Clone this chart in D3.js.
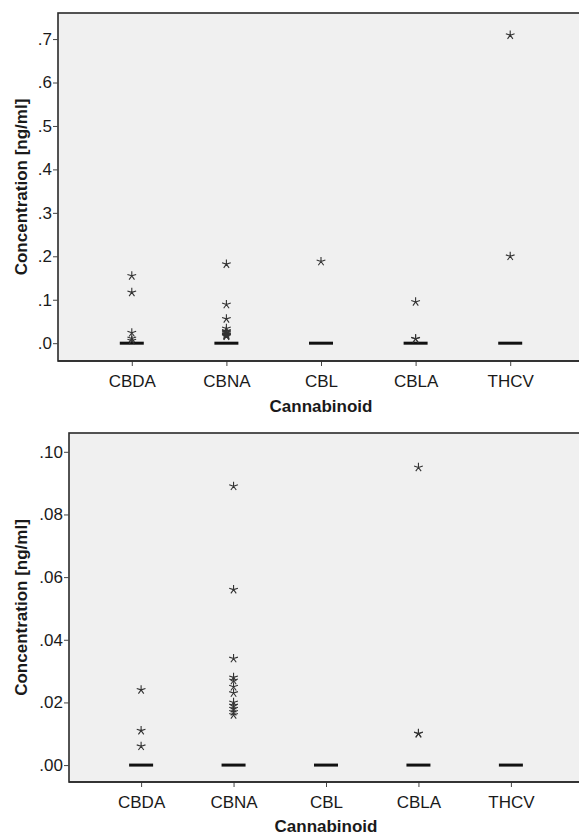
<!DOCTYPE html>
<html>
<head>
<meta charset="utf-8">
<script src="https://cdn.jsdelivr.net/npm/d3@7"></script>
<style>
  body { margin: 0; background: #fff; }
  svg { display: block; font-family: "Liberation Sans", Arial, sans-serif; }
</style>
</head>
<body>
<script>
// categories on the x axis
const cannabinoids = ["CBDA", "CBNA", "CBL", "CBLA", "THCV"];
// median of each group (boxes collapse to a line at zero)
const medians = [0, 0, 0, 0, 0];
// extreme values (asterisks) per group, ng/ml
const extremesCBDA = [0.155, 0.117, 0.024, 0.011, 0.006];
const extremesCBNA = [0.182, 0.089, 0.056, 0.034, 0.028, 0.027, 0.025, 0.023, 0.020, 0.019, 0.018, 0.017, 0.016];
const extremesCBL = [0.188];
const extremesCBLA = [0.095, 0.010, 0.0101];
const extremesTHCV = [0.709, 0.200];
// tick values of the two panels
const ticksTop = [0, 0.1, 0.2, 0.3, 0.4, 0.5, 0.6, 0.7];
const ticksBottom = [0, 0.02, 0.04, 0.06, 0.08, 0.10];

const extremes = [extremesCBDA, extremesCBNA, extremesCBL, extremesCBLA, extremesTHCV];

const svg = d3.select("body").append("svg")
    .attr("width", 579)
    .attr("height", 837);

// asterisk marker path, 5 spokes
function starPath(r) {
  let p = "";
  for (let i = 0; i < 5; i++) {
    const a = -Math.PI / 2 + i * 2 * Math.PI / 5;
    p += `M0,0L${(r * Math.cos(a)).toFixed(2)},${(r * Math.sin(a)).toFixed(2)}`;
  }
  return p;
}

function panel(opt) {
  const g = svg.append("g");

  const x = d3.scalePoint()
      .domain(cannabinoids)
      .range([opt.left, opt.right])
      .padding(0.78);

  const y = d3.scaleLinear()
      .domain(opt.domain)
      .range([opt.bottom, opt.top]);

  // plot area
  g.append("rect")
      .attr("x", opt.left)
      .attr("y", opt.top)
      .attr("width", opt.right - opt.left)
      .attr("height", opt.bottom - opt.top)
      .attr("fill", "#f0f0f0")
      .attr("stroke", "#2a2a2a")
      .attr("stroke-width", 1.6);

  // y axis
  const yAxis = g.append("g")
      .attr("transform", `translate(${opt.left},0)`)
      .call(d3.axisLeft(y)
        .tickValues(opt.ticks)
        .tickSize(5)
        .tickPadding(1)
        .tickFormat(d => d3.format(opt.fmt)(d).replace(/^0/, "")));
  yAxis.select(".domain").remove();
  yAxis.selectAll(".tick line").attr("stroke", "#444");
  yAxis.selectAll(".tick text")
      .attr("fill", "#1a1a1a")
      .style("font-size", "17px")
      .style("font-family", "Liberation Sans, Arial, sans-serif");

  // x axis
  const xAxis = g.append("g")
      .attr("transform", `translate(0,${opt.bottom})`)
      .call(d3.axisBottom(x).tickSize(5).tickPadding(9));
  xAxis.select(".domain").remove();
  xAxis.selectAll(".tick line").attr("stroke", "#444");
  xAxis.selectAll(".tick text")
      .attr("fill", "#1a1a1a")
      .style("font-size", "17px")
      .style("font-family", "Liberation Sans, Arial, sans-serif");

  // re-draw the bottom frame line on top of ticks
  g.append("line")
      .attr("x1", opt.left).attr("x2", opt.right)
      .attr("y1", opt.bottom).attr("y2", opt.bottom)
      .attr("stroke", "#2a2a2a")
      .attr("stroke-width", 1.6);

  // median lines
  g.selectAll(".median")
      .data(cannabinoids)
      .join("line")
      .attr("class", "median")
      .attr("x1", d => x(d) - 12)
      .attr("x2", d => x(d) + 12)
      .attr("y1", (d, i) => y(medians[i]))
      .attr("y2", (d, i) => y(medians[i]))
      .attr("stroke", "#111")
      .attr("stroke-width", 3);

  // extreme values, only those inside the panel's range
  const pts = [];
  cannabinoids.forEach((c, i) => {
    extremes[i].forEach(v => {
      if (v <= opt.domain[1]) pts.push({c: c, v: v});
    });
  });
  g.selectAll(".star")
      .data(pts)
      .join("path")
      .attr("class", "star")
      .attr("transform", d => `translate(${x(d.c)},${y(d.v)})`)
      .attr("d", starPath(4.6))
      .attr("fill", "none")
      .attr("stroke", "#333")
      .attr("stroke-width", 1.1);

  // axis titles
  g.append("text")
      .attr("x", x("CBL"))
      .attr("y", opt.xTitleY)
      .attr("text-anchor", "middle")
      .attr("font-size", "17px")
      .attr("font-weight", "bold")
      .attr("fill", "#1a1a1a")
      .text("Cannabinoid");

  g.append("text")
      .attr("transform", `translate(27,${(opt.top + opt.bottom) / 2}) rotate(-90)`)
      .attr("text-anchor", "middle")
      .attr("font-size", "17px")
      .attr("font-weight", "bold")
      .attr("fill", "#1a1a1a")
      .text("Concentration [ng/ml]");
}

panel({
  left: 58, right: 584, top: 13, bottom: 361,
  domain: [-0.041, 0.76], ticks: ticksTop, fmt: ".1f", xTitleY: 412
});

panel({
  left: 69, right: 583, top: 433, bottom: 782,
  domain: [-0.0054, 0.106], ticks: ticksBottom, fmt: ".2f", xTitleY: 832
});
</script>
</body>
</html>
